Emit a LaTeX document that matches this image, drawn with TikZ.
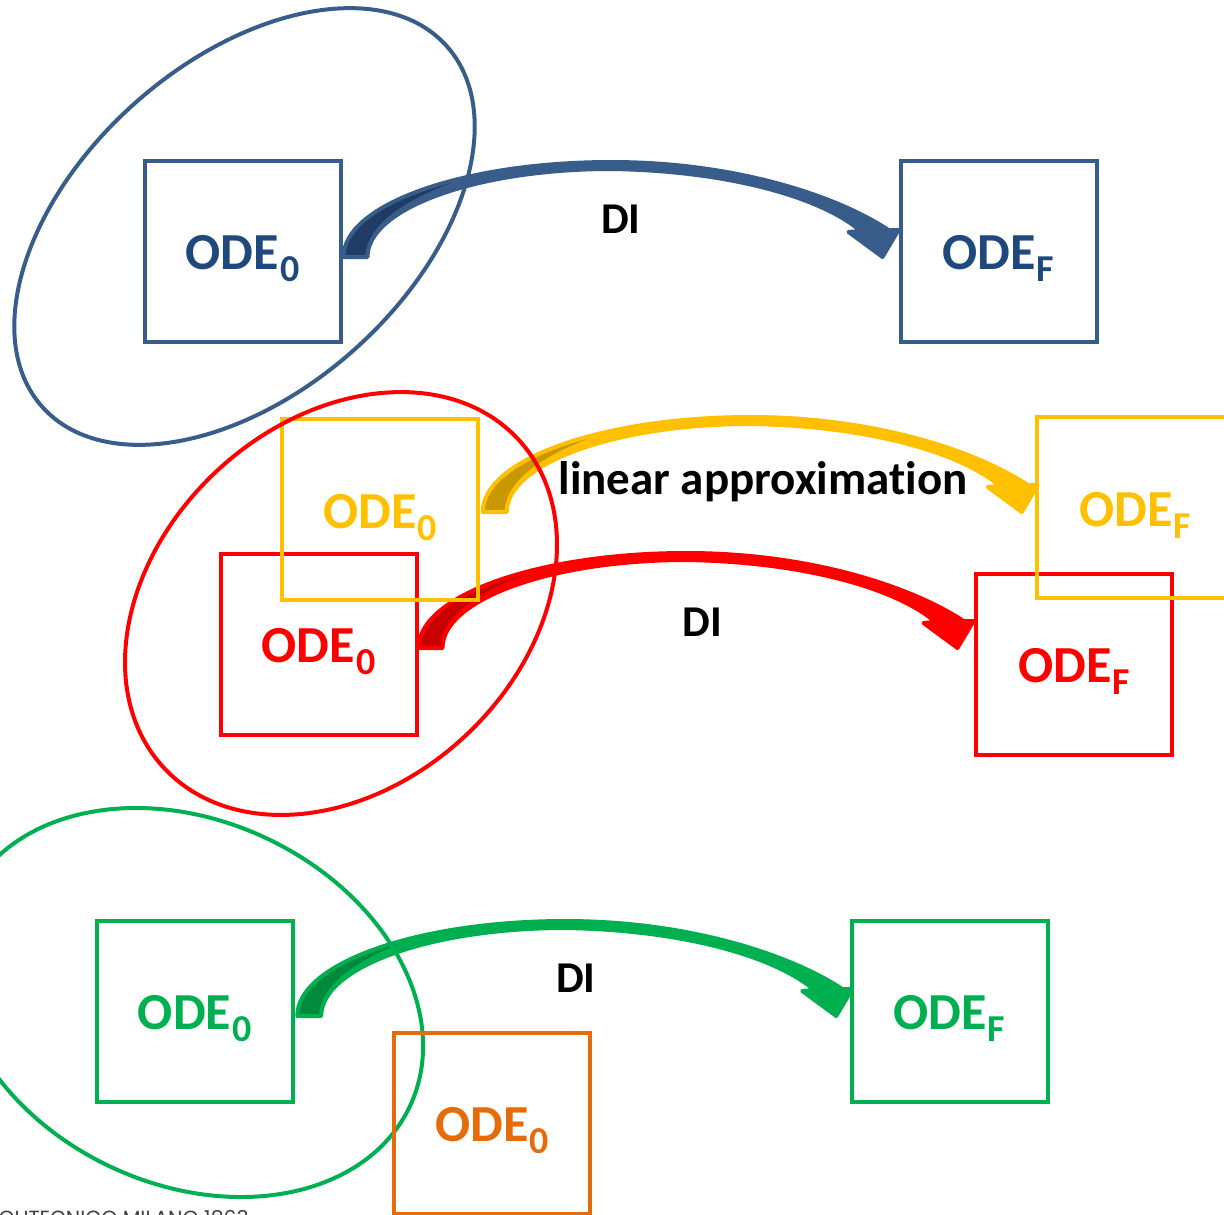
\documentclass[tikz,border=0pt]{standalone}
\usepackage{fontspec}
\setmainfont{Carlito}[Ligatures=NoCommon]
\newfontfamily\footfont{Poppins}
\usetikzlibrary{calc}
\definecolor{cblue}{HTML}{385D8A}
\definecolor{cbluetext}{HTML}{1F497D}
\definecolor{cbluedark}{HTML}{1F3B66}
\definecolor{cyellow}{HTML}{FFC000}
\definecolor{cyellowdark}{HTML}{C99700}
\definecolor{cred}{HTML}{FF0000}
\definecolor{creddark}{HTML}{C80000}
\definecolor{cgreen}{HTML}{00B050}
\definecolor{cgreendark}{HTML}{008A3E}
\definecolor{corange}{HTML}{E46C0A}
\definecolor{cfoot}{HTML}{404040}

\newcommand\odesub[1]{\raisebox{-12pt}{\fontsize{38}{38}\selectfont #1}}
\newcommand\odelabel[1]{ODE\kern1pt\odesub{#1}}
\newcommand\odearrowpath{(0,0) .. controls (0,-52.5) and (120,-95) .. (268,-95) .. controls (390,-95) and (492,-62) .. (545,-27) -- (555,-27) -- (539,0) -- (505,-25) -- (517,-26) .. controls (480,-58) and (390,-86) .. (268,-88) .. controls (133,-88) and (24,-48.6) .. (24,0) -- cycle}
\newcommand\odearrow[3]{%
  \begin{scope}[shift={(#1)}]
    \fill[#2] \odearrowpath;
    \begin{scope}
      \clip \odearrowpath;
      \fill[#3] (-10,5) -- (22,5) -- (22,0) .. controls (22,-35) and (70,-62) .. (124,-80) -- (124,-110) -- (-10,-110) -- cycle;
    \end{scope}
    \draw[#2, line width=4pt, line join=round] \odearrowpath;
  \end{scope}}

\tikzset{
  odebox/.style={draw, line width=4pt, minimum width=196pt, minimum height=181pt,
    inner sep=0pt, font=\bfseries\fontsize{52}{52}\selectfont,
    text height=40pt, text depth=3.4pt},
  odering/.style={line width=4pt},
  dilabel/.style={font=\bfseries\fontsize{44}{44}\selectfont, anchor=base, inner sep=0pt}
}

\begin{document}
\begin{tikzpicture}[x=1pt,y=-1pt]
\useasboundingbox (0,0) rectangle (1224,1215);
\clip (0,0) rectangle (1224,1215);

% ---------- blue group ----------
\node[odebox, draw=cblue, text=cbluetext] (b0) at (242.5,251) {\odelabel{0}};
\node[odebox, draw=cblue, text=cbluetext] (bF) at (998.5,251) {\odelabel{F}};
\coordinate (ab) at ($(b0.east)+(1,6)$);
\odearrow{ab}{cblue}{cbluedark}
\node[dilabel] (diB) at (621,233) {DI};
\draw[odering, cblue, rotate around={41.7:(244.5,226.5)}] (244.5,226.5) ellipse [x radius=271pt, y radius=165pt];

% ---------- red group ----------
\node[odebox, draw=cred, text=cred] (r0) at (318.5,644.5) {\odelabel{0}};
\node[odebox, draw=cred, text=cred] (rF) at (1074,664.6) {\odelabel{F}};
\coordinate (ar) at ($(r0.east)+(0,3.5)$);
\odearrow{ar}{cred}{creddark}
\node[dilabel] (diR) at (702.5,636) {DI};

% ---------- yellow group ----------
\node[odebox, draw=cyellow, text=cyellow] (y0) at (380.25,509.75) {\odelabel{0}};
\node[odebox, draw=cyellow, text=cyellow] (yF) at (1135,507.7) {\odelabel{F}};
\coordinate (ay) at ($(y0.east)+(2.5,2.25)$);
\odearrow{ay}{cyellow}{cyellowdark}
\node[dilabel, font=\bfseries\fontsize{47}{47}\selectfont] (lin) at (763,494) {linear approximation};
\draw[odering, cred, rotate around={42.8:(341,603.5)}] (341,603.5) ellipse [x radius=241.6pt, y radius=181.6pt];

% ---------- green group ----------
\node[odebox, draw=cgreen, text=cgreen] (g0) at (194.75,1011.5) {\odelabel{0}};
\node[odebox, draw=cgreen, text=cgreen] (gF) at (949.5,1011.5) {\odelabel{F}};
\coordinate (ag) at ($(g0.east)+(2.5,4.5)$);
\odearrow{ag}{cgreen}{cgreendark}
\node[dilabel] (diG) at (576,992) {DI};
\draw[odering, cgreen, rotate around={-25:(188.5,1002.5)}] (188.5,1002.5) ellipse [x radius=244.5pt, y radius=181.8pt];
\node[odebox, draw=corange, text=corange] (o0) at (492,1123.5) {\odelabel{0}};

% ---------- footer ----------
\node[font=\footfont\fontsize{20.5}{20.5}\selectfont, text=cfoot, anchor=north east, inner sep=0pt] (foot) at (249,1210.5) {POLITECNICO MILANO 1863};
\end{tikzpicture}
\end{document}
